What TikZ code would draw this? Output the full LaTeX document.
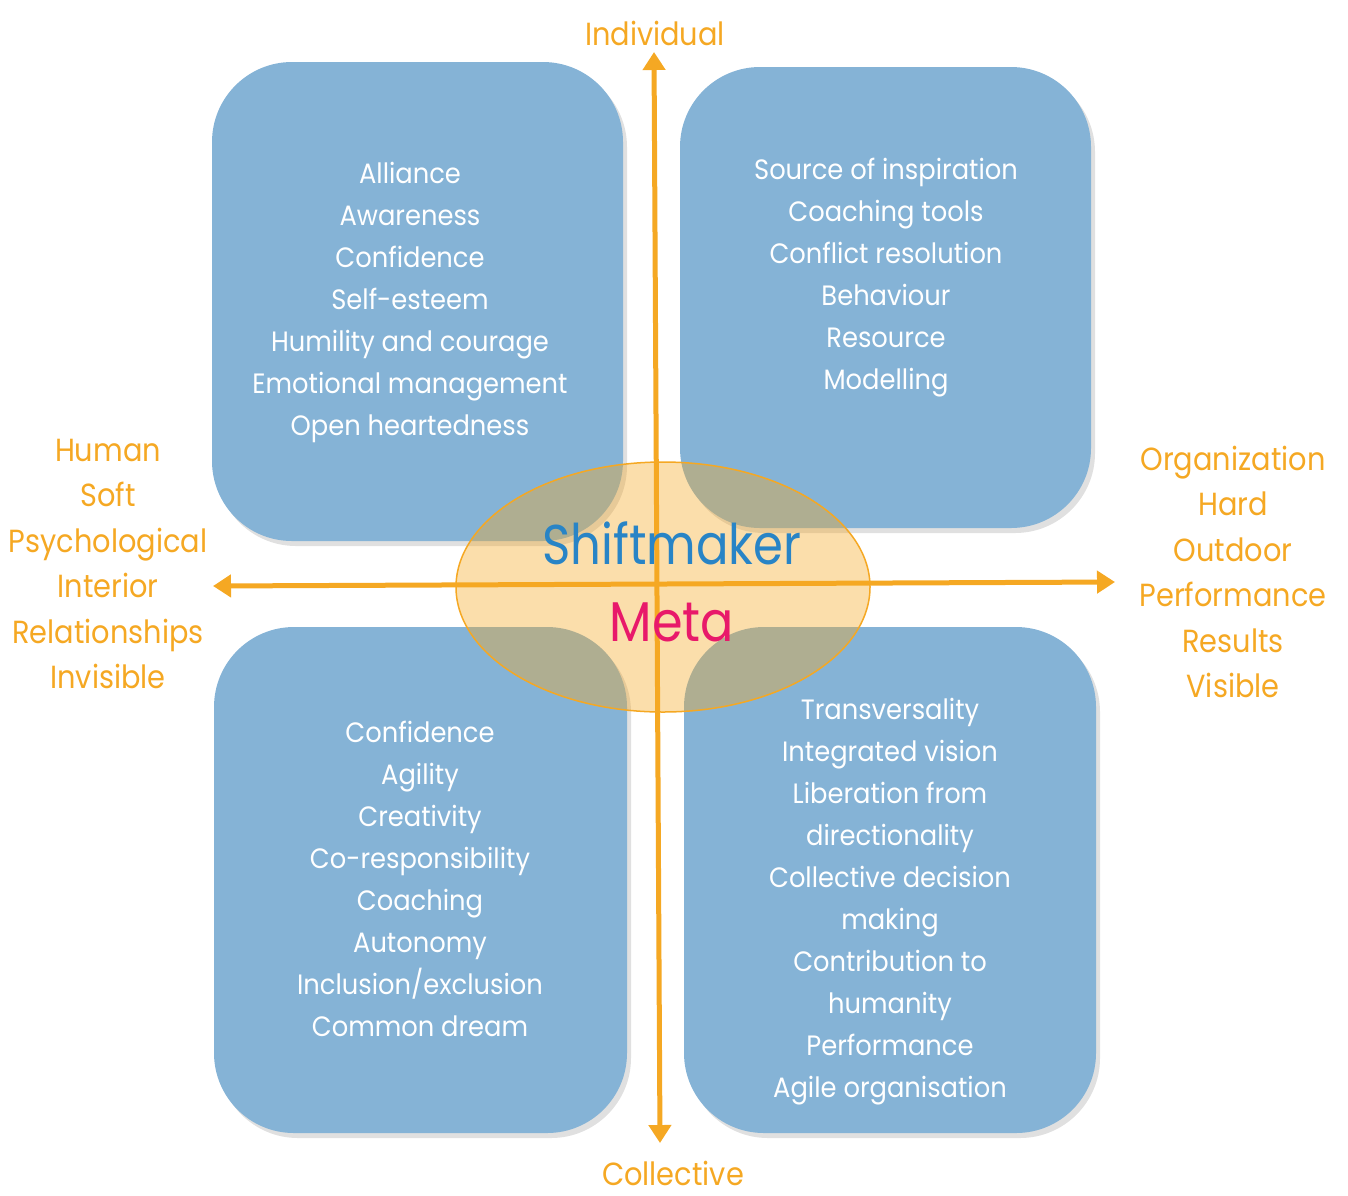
\documentclass[tikz,border=0pt]{standalone}
\usepackage{fontspec}
\setmainfont{Poppins}
\usetikzlibrary{arrows.meta,shapes.geometric}
\definecolor{boxblue}{RGB}{133,179,214}
\definecolor{axisorange}{RGB}{245,168,35}
\definecolor{shiftblue}{RGB}{40,132,198}
\definecolor{metapink}{RGB}{232,25,106}
\tikzset{
  quad/.style={fill=boxblue, rounded corners=80pt},
  quadshadow/.style={fill=black!12, rounded corners=80pt},
  boxtext/.style={text=white, align=center, xscale=0.92, transform shape, font=\fontsize{28}{42}\selectfont},
  sidetext/.style={text=axisorange, align=center, xscale=0.9, transform shape, font=\fontsize{32}{45.5}\selectfont},
  axis/.style={draw=axisorange, line width=5pt, {Triangle[width=22pt,length=18pt]}-{Triangle[width=22pt,length=18pt]}},
  core/.style={draw=axisorange, line width=1.5pt, fill=axisorange, fill opacity=0.38},
}
\begin{document}
\begin{tikzpicture}[x=1pt,y=-1pt]
\useasboundingbox (0,0) rectangle (1348,1195);
% shadows
\fill[quadshadow] (216,67) rectangle (627,546);
\fill[quadshadow] (684,72) rectangle (1095,533);
\fill[quadshadow] (218,632) rectangle (631,1138);
\fill[quadshadow] (688,632) rectangle (1100,1138);
% quadrant boxes
\fill[quad] (212,62) rectangle (623,541);
\fill[quad] (680,67) rectangle (1091,528);
\fill[quad] (214,627) rectangle (627,1133);
\fill[quad] (684,627) rectangle (1096,1133);
% central ellipse
\node[core, ellipse, minimum width=414pt, minimum height=250pt, inner sep=0pt] (core) at (663,587) {};
% axes
\coordinate (top) at (654,52);
\coordinate (bot) at (660,1143);
\coordinate (lft) at (213,586);
\coordinate (rgt) at (1115,582);
\draw[axis] (bot) -- (top);
\draw[axis] (lft) -- (rgt);
% quadrant texts
\node[boxtext] (tl) at (410,302) {Alliance\\Awareness\\Confidence\\Self-esteem\\Humility and courage\\Emotional management\\Open heartedness};
\node[boxtext] (tr) at (886,278) {Source of inspiration\\Coaching tools\\Conflict resolution\\Behaviour\\Resource\\Modelling};
\node[boxtext] (bl) at (420,879) {Confidence\\Agility\\Creativity\\Co-responsibility\\Coaching\\Autonomy\\Inclusion/exclusion\\Common dream};
\node[boxtext] (br) at (890,902) {Transversality\\Integrated vision\\Liberation from\\directionality\\Collective decision\\making\\Contribution to\\humanity\\Performance\\Agile organisation};
% axis labels
\node[sidetext] (individual) at (655,33) {Individual};
\node[sidetext] (collective) at (673,1173) {Collective};
\node[sidetext] (human) at (108,564) {Human\\Soft\\Psychological\\Interior\\Relationships\\Invisible};
\node[sidetext] (org) at (1233,572) {Organization\\Hard\\Outdoor\\Performance\\Results\\Visible};
% centre texts
\node[text=shiftblue, xscale=0.86, transform shape, font=\fontsize{56}{56}\selectfont] (shift) at (672,543) {Shiftmaker};
\node[text=metapink, xscale=0.88, transform shape, font=\fontsize{56}{56}\selectfont] (meta) at (672,622) {Meta};
\end{tikzpicture}
\end{document}
